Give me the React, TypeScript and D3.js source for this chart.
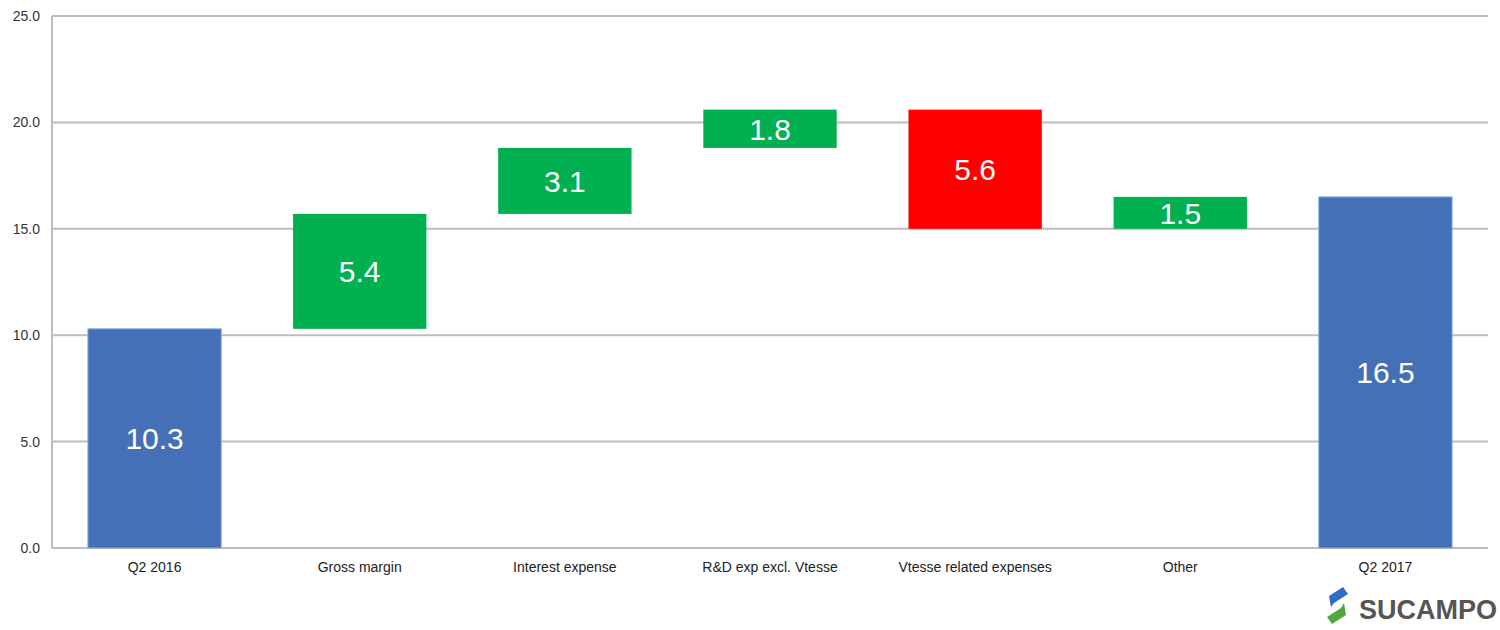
import React from "react";
import * as d3 from "d3";

const categories = ["Q2 2016", "Gross margin", "Interest expense", "R&D exp excl. Vtesse", "Vtesse related expenses", "Other", "Q2 2017"];
const deltas = [10.3, 5.4, 3.1, 1.8, -5.6, 1.5, 16.5];
const kinds = ["total", "up", "up", "up", "down", "up", "total"];
const yTicks = [0, 5, 10, 15, 20, 25];

const W = 1500, H = 630;
const left = 52, right = 1488, top = 16, bottom = 548;

export default function App() {
  const x = d3.scaleBand<string>().domain(categories).range([left, right]).paddingInner(0.35).paddingOuter(0.175);
  const y = d3.scaleLinear().domain([0, 25]).range([bottom, top]);
  const fmt = d3.format(".1f");
  let running = 0;
  const bars = categories.map((c, i) => {
    let y0: number, y1: number;
    if (kinds[i] === "total") { y0 = 0; y1 = deltas[i]; running = deltas[i]; }
    else { y0 = running; y1 = running + deltas[i]; running = y1; }
    return { c, y0: Math.min(y0, y1), y1: Math.max(y0, y1), v: Math.abs(deltas[i]), kind: kinds[i] };
  });
  const color = (k: string) => (k === "total" ? "#4470B8" : k === "up" ? "#00B050" : "#FF0000");
  return (
    <svg width={W} height={H} style={{ position: "absolute", left: 0, top: 0, background: "#fff" }}>
      {yTicks.map((t) => (
        <g key={t}>
          <line x1={left} x2={right} y1={y(t)} y2={y(t)} stroke="#bdbdbd" strokeWidth={2} />
          <text x={40} y={y(t)} dy="0.35em" textAnchor="end" fontFamily="Liberation Sans, Arial, sans-serif" fontSize={14} fill="#333">{fmt(t)}</text>
        </g>
      ))}
      <line x1={left} x2={left} y1={top} y2={bottom} stroke="#bdbdbd" strokeWidth={2} />
      {bars.map((b) => {
        const bx = x(b.c)!;
        const bw = x.bandwidth();
        const yt = y(b.y1), yb = y(b.y0);
        return (
          <g key={b.c}>
            <rect x={bx} y={yt} width={bw} height={yb - yt} fill={color(b.kind)} stroke={b.kind === "total" ? "#8fb0e0" : "none"} strokeWidth={1} />
            <text x={bx + bw / 2} y={(yt + yb) / 2} dy="0.36em" textAnchor="middle" fontFamily="Liberation Sans, Arial, sans-serif" fontSize={30} fill="#fff">{fmt(b.v)}</text>
            <text x={bx + bw / 2} y={572} textAnchor="middle" fontFamily="Liberation Sans, Arial, sans-serif" fontSize={14} fill="#222">{b.c}</text>
          </g>
        );
      })}
      <g>
        <path d="M1329 596 L1343 587 L1348 594 L1334 603 L1331 607 Z" fill="#2f6cc4" />
        <path d="M1327 617 L1341 608 L1344 603 L1346 615 L1332 624 Z" fill="#4ea93a" />
        <text x={1359} y={619} fontFamily="Liberation Sans, Arial, sans-serif" fontWeight="bold" fontSize={27} fill="#555">SUCAMPO</text>
      </g>
    </svg>
  );
}
